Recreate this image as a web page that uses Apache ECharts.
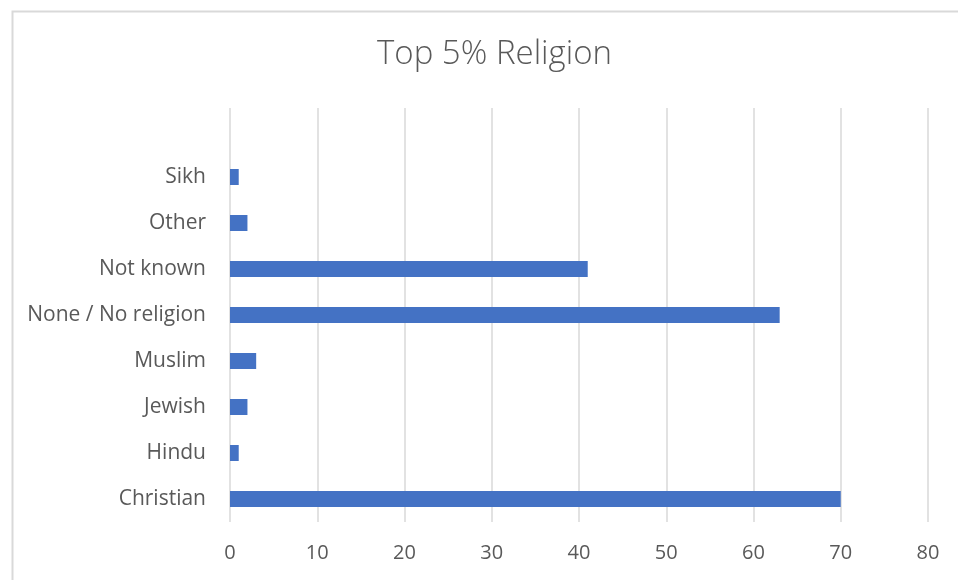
<!DOCTYPE html>
<html>
<head>
<meta charset="utf-8">
<script src="https://cdn.jsdelivr.net/npm/echarts@6/dist/echarts.min.js"></script>
<style>html,body{margin:0;padding:0;background:#fff;}#c{width:958px;height:580px;}</style>
</head>
<body>
<div id="c"></div>
<script>
var categories = ["Christian", "Hindu", "Jewish", "Muslim", "None / No religion", "Not known", "Other", "Sikh", ""];
var values = [70, 1, 2, 3, 63, 41, 2, 1, null];
var xTicks = { min: 0, max: 80, interval: 10 };
var titleText = "Top 5% Religion";

var chart = echarts.init(document.getElementById('c'), null, { renderer: 'canvas' });
var font = "'Open Sans', sans-serif";
chart.setOption({
  animation: false,
  backgroundColor: '#ffffff',
  graphic: [{
    type: 'rect', left: 10, top: 9, shape: { width: 1000, height: 1000 },
    style: { fill: 'none', stroke: '#d9d9d9', lineWidth: 2 }, silent: true
  }],
  title: {
    text: titleText, left: 372, top: 33,
    textStyle: { fontFamily: font, fontWeight: 300, fontSize: 33, color: '#595959' }
  },
  grid: { left: 230, right: 30, top: 108, bottom: 58, containLabel: false },
  xAxis: {
    type: 'value', min: xTicks.min, max: xTicks.max, interval: xTicks.interval,
    axisLine: { show: false }, axisTick: { show: false },
    splitLine: { show: true, lineStyle: { color: '#d9d9d9', width: 1.5 } },
    axisLabel: { margin: 21, fontFamily: font, fontSize: 20, color: '#595959' }
  },
  yAxis: {
    type: 'category', data: categories,
    axisLine: { show: false }, axisTick: { show: false },
    axisLabel: { margin: 24, fontFamily: font, fontSize: 21, color: '#595959' }
  },
  series: [{
    type: 'bar', data: values, barWidth: 16,
    itemStyle: { color: '#4472c4' }
  }]
});
</script>
</body>
</html>
